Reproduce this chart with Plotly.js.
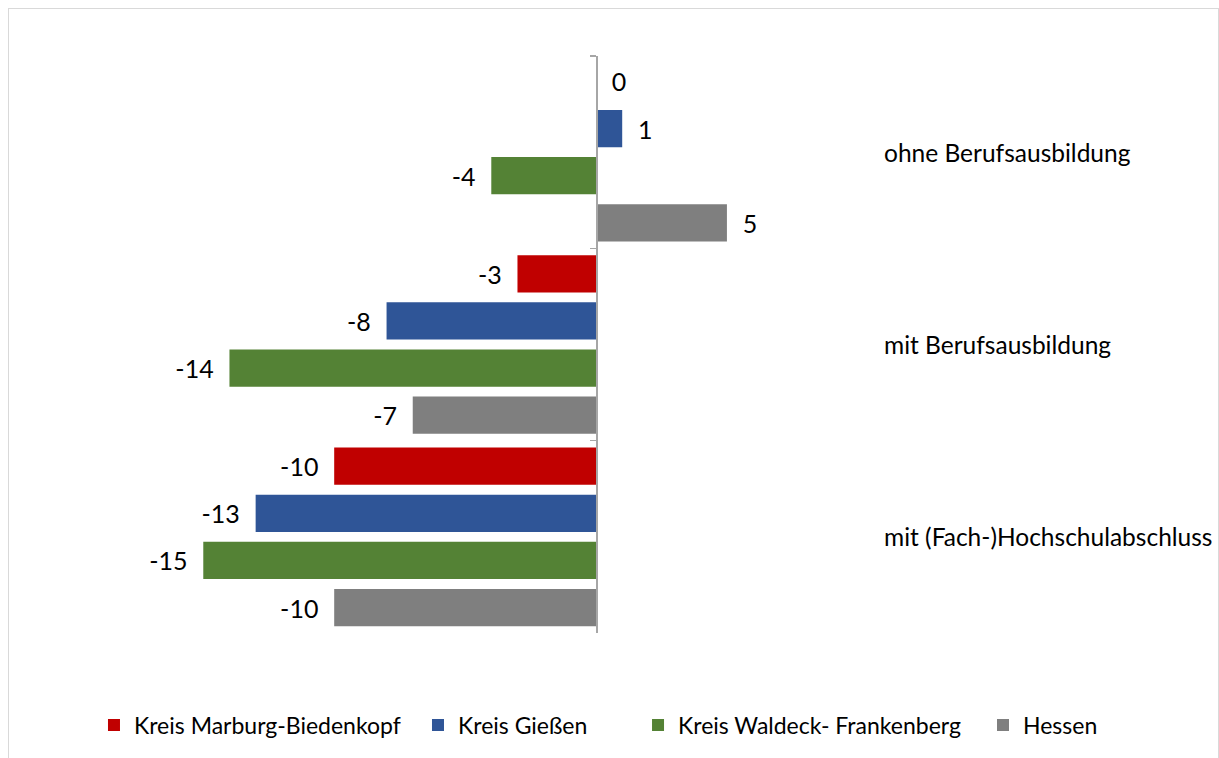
<!DOCTYPE html>
<html>
<head>
<meta charset="utf-8">
<script src="https://cdn.plot.ly/plotly-3.0.1.min.js"></script>
<style>
html,body{margin:0;padding:0;overflow:hidden;background:#fff;}
#chart{width:1219px;height:758px;}
#frame{position:absolute;left:8px;top:8px;width:1211px;height:800px;box-sizing:border-box;border:1px solid #d9d9d9;pointer-events:none;}
</style>
</head>
<body>
<div id="chart"></div>
<div id="frame"></div>
<script>
var categories = ["ohne Berufsausbildung", "mit Berufsausbildung", "mit (Fach-)Hochschulabschluss"];
var seriesNames = ["Kreis Marburg-Biedenkopf", "Kreis Gießen", "Kreis Waldeck- Frankenberg", "Hessen"];
var marburg = [0, -3, -10];
var giessen = [1, -8, -13];
var waldeck = [-4, -14, -15];
var hessen = [5, -7, -10];
var colors = ["#C00000", "#2F5597", "#548235", "#7F7F7F"];

var allSeries = [marburg, giessen, waldeck, hessen];
var xmin = -22.0, xmax = 23.03;
var legendX = [0.0771, 0.3429, 0.5234, 0.8064];

var traces = allSeries.map(function(vals, i){
  return {
    type: 'bar',
    orientation: 'h',
    name: seriesNames[i],
    legend: i === 0 ? 'legend' : 'legend' + (i + 1),
    y: categories,
    x: vals,
    marker: {color: colors[i]},
    text: vals.map(function(v){ return v >= 0 ? '  ' + v : v + '  '; }),
    texttemplate: '%{text}',
    textposition: 'outside',
    constraintext: 'none',
    cliponaxis: false,
    textfont: {family: 'Lato, sans-serif', size: 25, color: '#000'},
    hoverinfo: 'x+name'
  };
});

var annotations = categories.map(function(c){
  return {
    text: c, xref: 'paper', yref: 'y', x: 0.7311, y: c,
    xanchor: 'left', yanchor: 'middle', showarrow: false,
    font: {family: 'Lato, sans-serif', size: 24.5, color: '#000'}
  };
});

var layout = {
  width: 1219, height: 758,
  margin: {l: 20, r: 20, t: 56, b: 125},
  paper_bgcolor: '#fff', plot_bgcolor: '#fff',
  barmode: 'group', bargap: 0.02, bargroupgap: 0.21,
  showlegend: true,
  xaxis: {range: [xmin, xmax], visible: false, showgrid: false, zeroline: false, fixedrange: true},
  yaxis: {
    type: 'category', autorange: 'reversed',
    anchor: 'free', position: (0 - xmin) / (xmax - xmin),
    showline: true, linecolor: '#a6a6a6', linewidth: 1.5,
    ticks: 'outside', tickson: 'boundaries', ticklen: 6, tickcolor: '#a6a6a6', tickwidth: 1.5,
    showticklabels: false, showgrid: false, zeroline: false
  },
  annotations: annotations
};

legendX.forEach(function(lx, i){
  layout[i === 0 ? 'legend' : 'legend' + (i + 1)] = {
    orientation: 'h',
    xref: 'container', yref: 'container', x: lx, y: 0.0435, xanchor: 'left', yanchor: 'middle',
    bgcolor: 'rgba(0,0,0,0)',
    font: {family: 'Lato, sans-serif', size: 23, color: '#000'}
  };
});

Plotly.newPlot('chart', traces, layout, {displayModeBar: false, staticPlot: true});
</script>
</body>
</html>
